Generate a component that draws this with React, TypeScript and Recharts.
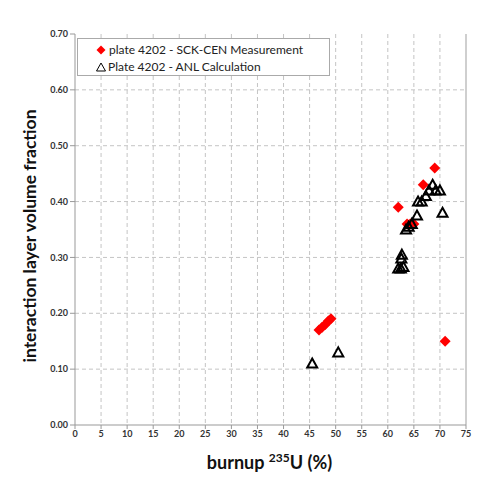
import React from 'react';
import {
  ScatterChart,
  Scatter,
  XAxis,
  YAxis,
  CartesianGrid,
  ReferenceLine,
  Label,
} from 'recharts';

const measBurnup = [46.8, 47.4, 48.0, 48.6, 49.1, 62.0, 63.7, 64.3, 65.0, 66.8, 69.0, 71.0];
const measFraction = [0.17, 0.175, 0.18, 0.186, 0.19, 0.39, 0.36, 0.36, 0.36, 0.43, 0.46, 0.15];

const calcBurnup = [45.5, 50.5, 62.0, 62.5, 63.0, 62.7, 62.6, 63.5, 64.0, 64.6, 65.6, 65.8, 66.5, 67.3, 67.9, 68.6, 69.2, 70.0, 70.5];
const calcFraction = [0.11, 0.13, 0.28, 0.28, 0.283, 0.305, 0.298, 0.35, 0.355, 0.36, 0.375, 0.4, 0.4, 0.41, 0.42, 0.43, 0.42, 0.42, 0.38];

const xTicks = [0, 5, 10, 15, 20, 25, 30, 35, 40, 45, 50, 55, 60, 65, 70, 75];
const yTicks = [0, 0.1, 0.2, 0.3, 0.4, 0.5, 0.6, 0.7];

const measName = 'plate 4202 - SCK-CEN Measurement';
const calcName = 'Plate 4202 - ANL Calculation';

const measData = measBurnup.map((x, i) => ({ x, y: measFraction[i] }));
const calcData = calcBurnup.map((x, i) => ({ x, y: calcFraction[i] }));

const FONT = 'Lato, "Open Sans", sans-serif';

const Diamond = ({ cx, cy }: any) => (
  <polygon
    points={`${cx},${cy - 5.5} ${cx + 5.5},${cy} ${cx},${cy + 5.5} ${cx - 5.5},${cy}`}
    fill="#ff0000"
  />
);

const Triangle = ({ cx, cy }: any) => (
  <polygon
    points={`${cx},${cy - 5} ${cx + 5},${cy + 4} ${cx - 5},${cy + 4}`}
    fill="none"
    stroke="#000"
    strokeWidth={2}
  />
);

const LegendBox = () => (
  <div
    style={{
      position: 'absolute',
      left: 77,
      top: 38,
      width: 253,
      height: 38,
      border: '1px solid #aaa',
      background: '#fff',
      fontFamily: FONT,
      fontSize: 12,
      color: '#222',
      boxSizing: 'border-box',
      paddingLeft: 18,
      paddingTop: 2,
      lineHeight: '17px',
    }}
  >
    <div style={{ display: 'flex', alignItems: 'center' }}>
      <svg width={10} height={10} style={{ marginRight: 3 }}>
        <polygon points="5,0.5 9.5,5 5,9.5 0.5,5" fill="#ff0000" />
      </svg>
      {measName}
    </div>
    <div style={{ display: 'flex', alignItems: 'center' }}>
      <svg width={10} height={10} style={{ marginRight: 2 }}>
        <polygon points="5,1 9.5,9 0.5,9" fill="none" stroke="#000" strokeWidth={1} />
      </svg>
      {calcName}
    </div>
  </div>
);

const XTitle = ({ viewBox }: any) => (
  <text
    x={viewBox.x + viewBox.width / 2 - 1}
    y={viewBox.y + 44}
    textAnchor="middle"
    fontFamily={FONT}
    fontWeight="bold"
    fontSize={18}
    fill="#111"
  >
    burnup{' '}
    <tspan fontSize={12} dy={-7}>235</tspan>
    <tspan dy={7}>U (%)</tspan>
  </text>
);

const YTitle = () => (
  <text
    x={32}
    y={236}
    transform="rotate(-90 32 236)"
    textAnchor="middle"
    dominantBaseline="middle"
    fontFamily={FONT}
    fontWeight="bold"
    fontSize={17.5}
    fill="#111"
  >
    interaction layer volume fraction
  </text>
);

const tickStyle = { fontSize: 9, fontWeight: 'bold', fill: '#333', fontFamily: FONT };

export default function App() {
  return (
    <div style={{ position: 'relative', margin: -8, width: 500, height: 490, overflow: 'hidden', background: '#fff' }}>
      <div
        style={{
          position: 'absolute',
          left: 6,
          top: 4,
          width: 492,
          height: 500,
          border: '1px solid #aaa',
          boxSizing: 'border-box',
        }}
      />
      <div style={{ position: 'absolute', left: 0, top: 0 }}>
        <ScatterChart
          width={500}
          height={490}
          margin={{ top: 34, right: 34, bottom: 35, left: 35 }}
        >
          <CartesianGrid
            stroke="#c4c4c4"
            strokeDasharray="4 3"
            horizontalValues={[0.1, 0.2, 0.3, 0.4, 0.5, 0.6]}
            verticalValues={[5, 10, 15, 20, 25, 30, 35, 40, 45, 50, 55, 60, 65, 70]}
          />
          <XAxis
            type="number"
            dataKey="x"
            domain={[0, 75]}
            ticks={xTicks}
            interval={0}
            tick={tickStyle}
            tickLine={{ stroke: '#999' }}
            tickSize={4}
            axisLine={{ stroke: '#999' }}
            height={30}
          >
            <Label content={XTitle} />
          </XAxis>
          <YAxis
            type="number"
            dataKey="y"
            domain={[0, 0.7]}
            ticks={yTicks}
            interval={0}
            tick={tickStyle}
            tickFormatter={(v: number) => v.toFixed(2)}
            tickLine={{ stroke: '#999' }}
            tickSize={5}
            axisLine={{ stroke: '#999' }}
            width={40}
          >
            <Label content={YTitle} />
          </YAxis>
          <ReferenceLine x={75} stroke="#cfcfcf" strokeWidth={2} />
          <Scatter name={measName} data={measData} shape={Diamond} isAnimationActive={false} />
          <Scatter name={calcName} data={calcData} shape={Triangle} isAnimationActive={false} />
        </ScatterChart>
      </div>
      <LegendBox />
    </div>
  );
}
